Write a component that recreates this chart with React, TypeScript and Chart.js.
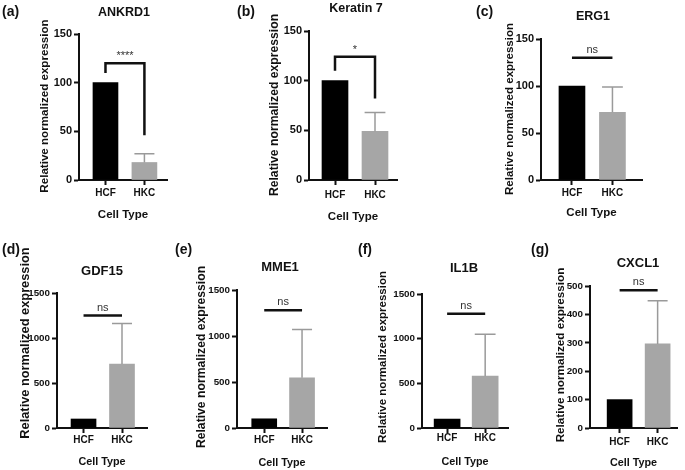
import { useEffect, useRef } from 'react';
import { Chart, registerables } from 'chart.js';

Chart.register(...registerables);

// ---------- data ----------
const CELL_TYPES = ['HCF', 'HKC'];
const GENES = ['ANKRD1', 'Keratin 7', 'ERG1', 'GDF15', 'MME1', 'IL1B', 'CXCL1'];
const PANEL_LETTERS = ['(a)', '(b)', '(c)', '(d)', '(e)', '(f)', '(g)'];

const ANKRD1_MEAN = [100, 18];
const ANKRD1_SD = [0, 9];
const KRT7_MEAN = [100, 49];
const KRT7_SD = [0, 19];
const ERG1_MEAN = [100, 72];
const ERG1_SD = [0, 27];
const GDF15_MEAN = [100, 710];
const GDF15_SD = [0, 450];
const MME1_MEAN = [100, 545];
const MME1_SD = [0, 525];
const IL1B_MEAN = [100, 580];
const IL1B_SD = [0, 470];
const CXCL1_MEAN = [100, 296];
const CXCL1_SD = [0, 152];

const SIG_LABELS = ['****', '*', 'ns', 'ns', 'ns', 'ns', 'ns'];
// bracket levels: [left leg end, top, right leg end] or [line level]
const SIG_LEVELS = [[110, 120, 46], [110, 124, 82], [130], [1250], [1280], [1280], [485]];
const Y_MAX = [150, 150, 150, 1500, 1500, 1500, 500];
const Y_STEP = [50, 50, 50, 500, 500, 500, 100];

const MEANS = [ANKRD1_MEAN, KRT7_MEAN, ERG1_MEAN, GDF15_MEAN, MME1_MEAN, IL1B_MEAN, CXCL1_MEAN];
const SDS = [ANKRD1_SD, KRT7_SD, ERG1_SD, GDF15_SD, MME1_SD, IL1B_SD, CXCL1_SD];

// ---------- layout / style ----------
const FONT = "'Liberation Sans', Arial, Helvetica, sans-serif";
const BAR_COLORS = ['#000000', '#a6a6a6'];
const ERR_COLORS = ['#000000', '#9a9a9a'];
const INK = '#111111';

type Layout = {
  box: number[]; // canvas left, top, width, height (page coords)
  axisX: number; plotTop: number; plotBottom: number; plotRight: number;
  xMin: number; xMax: number; barW: number;
  title: number[]; titleSize: number; letter: number[];
  yTitle: number[]; yTitleSize: number; tickSize: number;
  xLabelY: number; xTitleY: number; xTitleSize: number;
};

const LAYOUTS: Layout[] = [
  { box: [0, 0, 228, 232], axisX: 79, plotTop: 34, plotBottom: 180, plotRight: 167, xMin: -0.68, xMax: 1.58, barW: 25,
    title: [124, 13], titleSize: 12.5, letter: [2, 12], yTitle: [45, 106], yTitleSize: 11.6, tickSize: 11,
    xLabelY: 193, xTitleY: 215, xTitleSize: 11.5 },
  { box: [228, 0, 228, 232], axisX: 309, plotTop: 31, plotBottom: 180, plotRight: 397, xMin: -0.65, xMax: 1.55, barW: 26,
    title: [356, 9], titleSize: 12.5, letter: [237, 12], yTitle: [275, 105], yTitleSize: 12.2, tickSize: 11,
    xLabelY: 195, xTitleY: 217, xTitleSize: 11.5 },
  { box: [456, 0, 229, 232], axisX: 541, plotTop: 39, plotBottom: 180, plotRight: 642, xMin: -0.765, xMax: 1.73, barW: 26,
    title: [593, 17], titleSize: 12.5, letter: [476, 12], yTitle: [510, 109], yTitleSize: 11.5, tickSize: 11,
    xLabelY: 193, xTitleY: 213, xTitleSize: 11.5 },
  { box: [0, 235, 170, 235], axisX: 57, plotTop: 293, plotBottom: 428, plotRight: 147, xMin: -0.69, xMax: 1.65, barW: 25,
    title: [102, 271], titleSize: 13, letter: [2, 250], yTitle: [25, 343], yTitleSize: 12.8, tickSize: 9.8,
    xLabelY: 440, xTitleY: 462, xTitleSize: 10.8 },
  { box: [170, 235, 170, 235], axisX: 237, plotTop: 290, plotBottom: 428, plotRight: 327, xMin: -0.72, xMax: 1.66, barW: 25,
    title: [280, 267], titleSize: 13, letter: [175, 250], yTitle: [202, 357], yTitleSize: 12.2, tickSize: 9.8,
    xLabelY: 440, xTitleY: 463, xTitleSize: 10.8 },
  { box: [340, 235, 170, 235], axisX: 422, plotTop: 294, plotBottom: 428, plotRight: 508, xMin: -0.66, xMax: 1.6, barW: 26,
    title: [464, 268], titleSize: 13, letter: [358, 250], yTitle: [383, 357], yTitleSize: 11.5, tickSize: 9.8,
    xLabelY: 438, xTitleY: 462, xTitleSize: 10.8 },
  { box: [510, 235, 175, 235], axisX: 590, plotTop: 286, plotBottom: 428, plotRight: 677, xMin: -0.78, xMax: 1.51, barW: 25,
    title: [638, 263], titleSize: 13, letter: [531, 250], yTitle: [561, 355], yTitleSize: 11.7, tickSize: 9.8,
    xLabelY: 442, xTitleY: 463, xTitleSize: 10.8 },
];

function makeAnnotPlugin(idx: number) {
  const L = LAYOUTS[idx];
  return {
    id: 'annot' + idx,
    afterDatasetsDraw(chart: any) {
      const ctx: CanvasRenderingContext2D = chart.ctx;
      const xs = chart.scales.x;
      const ys = chart.scales.y;
      const [cl, ct] = L.box;
      const means = MEANS[idx];
      const sds = SDS[idx];
      ctx.save();
      // error bars (upper only)
      means.forEach((v, i) => {
        const e = sds[i];
        if (!e) return;
        const x = xs.getPixelForValue(i);
        const y0 = ys.getPixelForValue(v);
        const y1 = ys.getPixelForValue(v + e);
        const cap = L.barW * 0.4;
        ctx.strokeStyle = ERR_COLORS[i];
        ctx.lineWidth = 1.5;
        ctx.beginPath();
        ctx.moveTo(x, y0);
        ctx.lineTo(x, y1);
        ctx.moveTo(x - cap, y1);
        ctx.lineTo(x + cap, y1);
        ctx.stroke();
      });
      // significance bracket / line
      const x0 = xs.getPixelForValue(0);
      const x1 = xs.getPixelForValue(1);
      const lv = SIG_LEVELS[idx];
      ctx.strokeStyle = INK;
      ctx.lineWidth = 2.5;
      ctx.lineJoin = 'miter';
      ctx.beginPath();
      let topY: number;
      if (lv.length === 3) {
        const yl = ys.getPixelForValue(lv[0]);
        topY = ys.getPixelForValue(lv[1]);
        const yr = ys.getPixelForValue(lv[2]);
        ctx.moveTo(x0, yl);
        ctx.lineTo(x0, topY);
        ctx.lineTo(x1, topY);
        ctx.lineTo(x1, yr);
      } else {
        topY = ys.getPixelForValue(lv[0]);
        ctx.moveTo(x0, topY);
        ctx.lineTo(x1, topY);
      }
      ctx.stroke();
      const label = SIG_LABELS[idx];
      ctx.fillStyle = '#333';
      ctx.textAlign = 'center';
      ctx.textBaseline = 'alphabetic';
      ctx.font = `11px ${FONT}`;
      ctx.fillText(label, (x0 + x1) / 2, topY - (label === 'ns' ? 5 : 4));
      // chart title
      ctx.fillStyle = INK;
      ctx.font = `bold ${L.titleSize}px ${FONT}`;
      ctx.textAlign = 'center';
      ctx.textBaseline = 'middle';
      ctx.fillText(GENES[idx], L.title[0] - cl, L.title[1] - ct);
      // panel letter
      ctx.font = `bold 14px ${FONT}`;
      ctx.textAlign = 'left';
      ctx.fillText(PANEL_LETTERS[idx], L.letter[0] - cl, L.letter[1] - ct);
      // y axis title
      ctx.save();
      ctx.translate(L.yTitle[0] - cl, L.yTitle[1] - ct);
      ctx.rotate(-Math.PI / 2);
      ctx.font = `bold ${L.yTitleSize}px ${FONT}`;
      ctx.textAlign = 'center';
      ctx.textBaseline = 'middle';
      ctx.fillText('Relative normalized expression', 0, 0);
      ctx.restore();
      ctx.restore();
    },
  };
}

function Panel({ idx }: { idx: number }) {
  const ref = useRef<HTMLCanvasElement>(null);
  const L = LAYOUTS[idx];
  const [cl, ct, cw, ch] = L.box;
  useEffect(() => {
    const xLabelSize = 10;
    const xTickPad = L.xLabelY - L.plotBottom - 5 - 0.6 * xLabelSize;
    const xTitlePadBottom = ct + ch - L.xTitleY - 0.6 * L.xTitleSize;
    const chart = new Chart(ref.current as HTMLCanvasElement, {
      type: 'bar',
      data: {
        datasets: [
          {
            data: MEANS[idx].map((y, i) => ({ x: i, y })),
            backgroundColor: BAR_COLORS,
            borderWidth: 0,
            barThickness: L.barW,
          },
        ],
      },
      options: {
        responsive: false,
        animation: false,
        devicePixelRatio: 1,
        layout: {
          autoPadding: false,
          padding: { left: 0, top: L.plotTop - ct, right: cl + cw - L.plotRight, bottom: 0 },
        },
        plugins: { legend: { display: false }, tooltip: { enabled: false }, title: { display: false } },
        scales: {
          x: {
            type: 'linear',
            min: L.xMin,
            max: L.xMax,
            offset: false,
            afterBuildTicks: (s: any) => {
              s.ticks = CELL_TYPES.map((_, i) => ({ value: i }));
            },
            afterFit: (s: any) => {
              s.height = ct + ch - L.plotBottom;
            },
            grid: { drawOnChartArea: false, offset: false, drawTicks: true, tickLength: 5, tickWidth: 2, tickColor: INK },
            border: { display: true, color: INK, width: 2 },
            ticks: {
              callback: (v: any) => CELL_TYPES[v as number],
              font: { family: FONT, size: xLabelSize, weight: 'bold' },
              color: INK,
              padding: xTickPad,
              maxRotation: 0,
              autoSkip: false,
            },
            title: {
              display: true,
              text: 'Cell Type',
              color: INK,
              font: { family: FONT, size: L.xTitleSize, weight: 'bold' },
              padding: { top: 0, bottom: xTitlePadBottom },
            },
          },
          y: {
            min: 0,
            max: Y_MAX[idx],
            afterFit: (s: any) => {
              s.width = L.axisX - cl;
            },
            grid: { drawOnChartArea: false, drawTicks: true, tickLength: 5, tickWidth: 2, tickColor: INK },
            border: { display: true, color: INK, width: 2 },
            ticks: {
              stepSize: Y_STEP[idx],
              callback: (v: any) => String(v),
              font: { family: FONT, size: L.tickSize, weight: 'bold' },
              color: INK,
              padding: 2,
            },
          },
        },
      } as any,
      plugins: [makeAnnotPlugin(idx)],
    });
    return () => chart.destroy();
  }, []);
  return (
    <canvas
      ref={ref}
      width={cw}
      height={ch}
      style={{ position: 'absolute', left: cl, top: ct, width: cw, height: ch }}
    />
  );
}

export default function App() {
  return (
    <div style={{ position: 'absolute', left: 0, top: 0, width: 685, height: 470, background: '#fff', overflow: 'hidden' }}>
      {LAYOUTS.map((_, i) => (
        <Panel key={i} idx={i} />
      ))}
    </div>
  );
}
